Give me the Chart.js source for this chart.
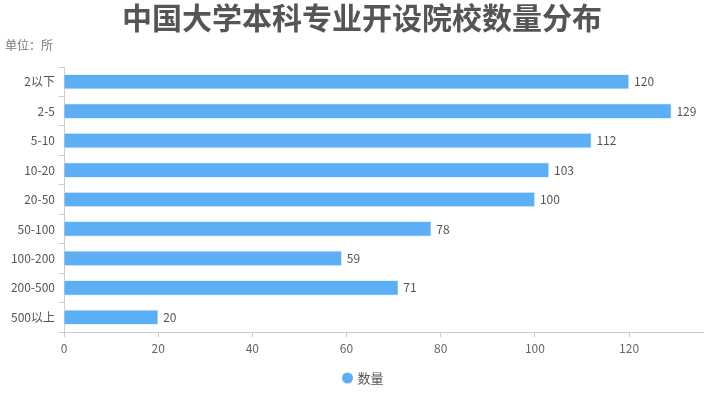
<!DOCTYPE html>
<html><head><meta charset="utf-8">
<script src="https://cdn.jsdelivr.net/npm/chart.js@4/dist/chart.umd.min.js"></script>
<style>html,body{margin:0;padding:0;background:#fff}#wrap{width:709px;height:395px}</style>
</head><body><div id="wrap"><canvas id="c" width="709" height="395"></canvas></div>
<script>
const categories = ['2以下','2-5','5-10','10-20','20-50','50-100','100-200','200-500','500以上'];
const counts = [120,129,112,103,100,78,59,71,20];
const xTicks = [0,20,40,60,80,100,120];
const titleText = '中国大学本科专业开设院校数量分布';
const unitText = '单位：所';
const seriesName = '数量';
const FONT = "'Noto Sans CJK SC','Noto Sans',sans-serif";
const BAR_COLOR = '#5caef5';

const valueLabels = {
  id:'valueLabels',
  afterDatasetsDraw(chart){
    const ctx = chart.ctx;
    const meta = chart.getDatasetMeta(0);
    ctx.save();
    ctx.font = '12px ' + FONT;
    ctx.fillStyle = '#555';
    ctx.textAlign = 'left';
    ctx.textBaseline = 'middle';
    meta.data.forEach((bar,i)=>{
      ctx.fillText(String(counts[i]), bar.x + 5, bar.y);
    });
    ctx.restore();
  }
};
const headerFooter = {
  id:'headerFooter',
  afterDraw(chart){
    const ctx = chart.ctx;
    ctx.save();
    // title
    ctx.font = 'bold 30px ' + FONT;
    ctx.fillStyle = '#555';
    ctx.textAlign = 'center';
    ctx.textBaseline = 'middle';
    ctx.fillText(titleText, 362, 18);
    // unit
    ctx.font = '12px ' + FONT;
    ctx.fillStyle = '#777';
    ctx.textAlign = 'left';
    ctx.fillText(unitText, 5, 45);
    // legend
    ctx.font = '13px ' + FONT;
    const tw = ctx.measureText(seriesName).width;
    const total = 10 + 5 + tw;
    const x0 = 363 - total/2;
    ctx.fillStyle = BAR_COLOR;
    ctx.beginPath();
    ctx.arc(x0 + 5, 378, 5.5, 0, Math.PI*2);
    ctx.fill();
    ctx.fillStyle = '#555';
    ctx.fillText(seriesName, x0 + 15, 378);
    ctx.restore();
  }
};

new Chart(document.getElementById('c'), {
  type:'bar',
  data:{
    labels: categories,
    datasets:[{
      label: seriesName,
      data: counts,
      backgroundColor: BAR_COLOR,
      borderColor:'#e6f2fd',
      borderWidth:{top:1,bottom:1,right:1,left:0},
      barThickness:15
    }]
  },
  plugins:[valueLabels, headerFooter],
  options:{
    indexAxis:'y',
    responsive:false,
    animation:false,
    devicePixelRatio:1,
    layout:{padding:{left:5,right:6,top:67,bottom:33}},
    scales:{
      x:{
        min:0, max:135.7,
        afterFit(s){ s.height = 30; },
        afterBuildTicks(s){ s.ticks = xTicks.map(v=>({value:v})); },
        ticks:{stepSize:20, includeBounds:false, color:'#666', font:{family:FONT,size:12}, padding:4},
        grid:{drawOnChartArea:false, tickLength:5, color:'#ccc'},
        border:{color:'#ccc'}
      },
      y:{
        afterFit(s){ s.width = 59; },
        ticks:{color:'#555', font:{family:FONT,size:12}, padding:4},
        grid:{drawOnChartArea:false, offset:true, tickLength:5, color:'#ccc'},
        border:{color:'#ccc'}
      }
    },
    plugins:{
      title:{display:false},
      subtitle:{display:false},
      legend:{display:false},
      tooltip:{enabled:false}
    }
  }
});
</script></body></html>
